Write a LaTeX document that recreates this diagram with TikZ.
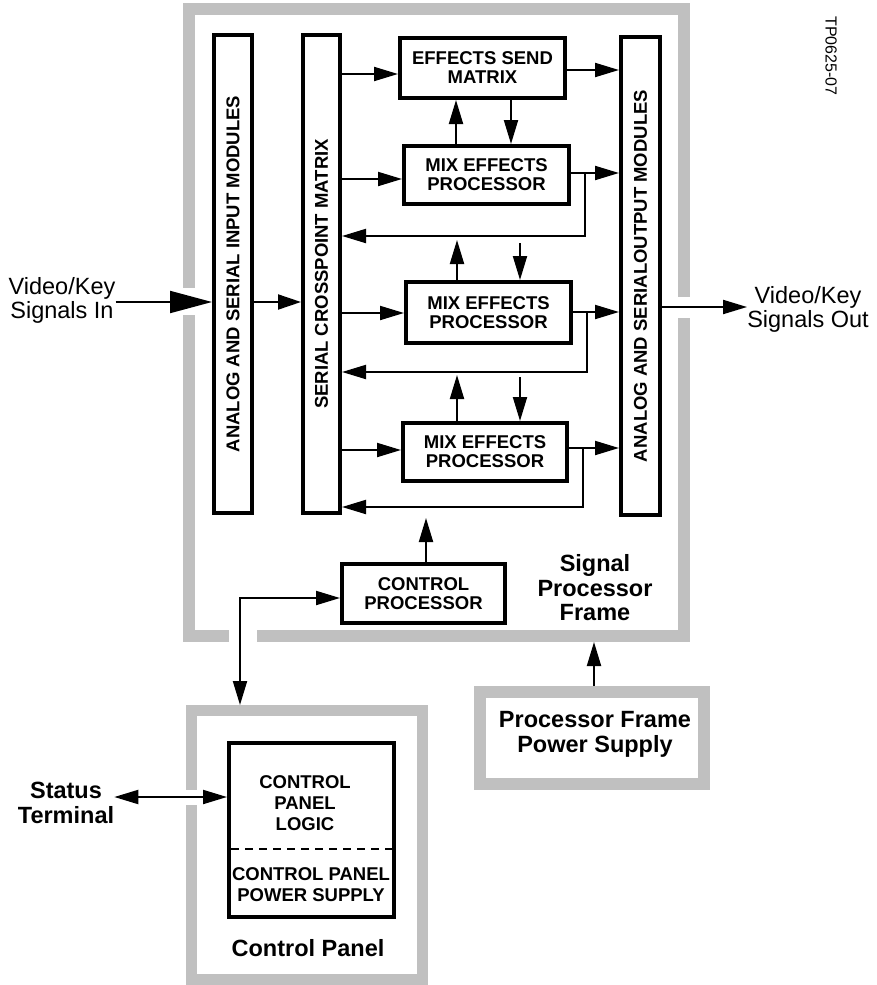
\documentclass[tikz,border=0pt]{standalone}
\usepackage{fontspec}
\setmainfont{Liberation Sans}
\usetikzlibrary{arrows.meta}
\definecolor{framegrey}{RGB}{192,192,192}
\begin{document}
\begin{tikzpicture}[x=1pt,y=-1pt,
  box/.style={draw, line width=4pt, inner sep=0pt, align=center,
    font=\fontsize{18.5}{19}\selectfont\bfseries},
  boxtext/.style={inner sep=0pt, align=center, font=\fontsize{18.5}{21}\selectfont\bfseries},
  frame/.style={draw=framegrey, line width=12pt, inner sep=0pt},
  arr/.style={line width=2pt, -{Triangle[length=24pt,width=14pt]}},
  darr/.style={line width=2pt, {Triangle[length=24pt,width=14pt]}-{Triangle[length=24pt,width=14pt]}},
  lbl/.style={align=center, inner sep=0pt, font=\fontsize{23.5}{24}\selectfont},
  blbl/.style={align=center, inner sep=0pt, font=\fontsize{23.5}{24.5}\selectfont\bfseries},
]
\useasboundingbox (0,0) rectangle (876,985);

% grey frames
\node[frame, minimum width=495pt, minimum height=627pt] (spf) at (436.5,322.5) {};
\node[frame, minimum width=224pt, minimum height=92pt] (psf) at (592,738) {};
\node[frame, line width=11pt, minimum width=231pt, minimum height=269pt] (cpf) at (307,845) {};

% openings in the frames where signals pass through
\fill[white] (180,288) rectangle (198,315);
\fill[white] (675,297) rectangle (693,318);
\fill[white] (229,627) rectangle (257,646);
\fill[white] (183,790) rectangle (200,805);

% signal processor blocks
\node[box, minimum width=38pt, minimum height=478pt] (inmod) at (233,274)
  {\rotatebox{90}{ANALOG AND SERIAL INPUT MODULES}};
\node[box, minimum width=37pt, minimum height=478pt] (xpt) at (321.5,274)
  {\rotatebox{90}{SERIAL CROSSPOINT MATRIX}};
\node[box, minimum width=39pt, minimum height=478pt] (outmod) at (640.5,276)
  {\rotatebox{90}{ANALOG AND SERIALOUTPUT MODULES}};
\node[box, minimum width=165pt, minimum height=60pt] (es) at (482.5,68)
  {EFFECTS SEND\\MATRIX};
\node[box, minimum width=165pt, minimum height=58pt] (mix1) at (486.5,175)
  {MIX EFFECTS\\PROCESSOR};
\node[box, minimum width=165pt, minimum height=61pt] (mix2) at (488.5,312.5)
  {MIX EFFECTS\\PROCESSOR};
\node[box, minimum width=164pt, minimum height=58pt] (mix3) at (485,452)
  {MIX EFFECTS\\PROCESSOR};
\node[box, minimum width=163pt, minimum height=59pt] (cp) at (423.5,593.5)
  {CONTROL\\PROCESSOR};

% control panel block
\node[box, minimum width=165pt, minimum height=174pt] (cpl) at (311.5,830) {};
\node[boxtext] (cpltxt) at (305,803) {CONTROL\\PANEL\\LOGIC};
\node[boxtext] (cpstxt) at (311,884.5) {CONTROL PANEL\\POWER SUPPLY};
\draw[line width=2.5pt, dash pattern=on 8pt off 6pt]
  ([xshift=4pt]cpl.west |- 0,849) -- ([xshift=-4pt]cpl.east |- 0,849);

% labels
\node[blbl] (spflbl) at (595,588) {Signal\\Processor\\Frame};
\node[blbl] (psflbl) at (595,734.5) {Processor Frame\\Power Supply};
\node[blbl] (cpflbl) at (308,948) {Control Panel};
\node[blbl] (status) at (66,803) {Status\\Terminal};
\node[lbl] (vkin) at (62,300) {Video/Key\\Signals In};
\node[lbl] (vkout) at (808,309) {Video/Key\\Signals Out};
\node[rotate=-90, inner sep=0pt, font=\fontsize{16}{16}\selectfont] (tp) at (831,56) {TP0625-07};

% input side
\draw[line width=2pt, -{Triangle[length=42pt,width=22pt]}]
  (vkin.east |- 0,302) -- (inmod.west |- 0,302);
\draw[line width=2pt, -{Triangle[length=23pt,width=15pt]}]
  (inmod.east |- 0,302) -- (xpt.west |- 0,302);

% effects send matrix
\draw[arr] (xpt.east |- 0,74) -- (es.west |- 0,74);
\draw[arr] (es.east |- 0,70) -- (outmod.west |- 0,70);
\draw[arr] (mix1.north -| 456,0) -- (es.south -| 456,0);
\draw[arr] (es.south -| 511,0) -- (mix1.north -| 511,0);

% first mix effects processor
\draw[arr] (xpt.east |- 0,179) -- (mix1.west |- 0,179);
\draw[arr] (mix1.east |- 0,173) -- (outmod.west |- 0,173);
\coordinate (fb1) at (585,173);
\draw[arr] (fb1) |- (xpt.east |- 0,236);

% second mix effects processor
\coordinate (up2) at (457,240);
\coordinate (dn2) at (520,243);
\draw[arr] (mix2.north -| up2) -- (up2);
\draw[arr] (dn2) -- (mix2.north -| dn2);
\draw[arr] (xpt.east |- 0,313) -- (mix2.west |- 0,313);
\draw[arr] (mix2.east |- 0,312) -- (outmod.west |- 0,312);
\coordinate (fb2) at (587,312);
\draw[arr] (fb2) |- (xpt.east |- 0,372);

% third mix effects processor
\coordinate (up3) at (457,375);
\coordinate (dn3) at (520,377);
\draw[arr] (mix3.north -| up3) -- (up3);
\draw[arr] (dn3) -- (mix3.north -| dn3);
\draw[arr] (xpt.east |- 0,450) -- (mix3.west |- 0,450);
\draw[arr] (mix3.east |- 0,448) -- (outmod.west |- 0,448);
\coordinate (fb3) at (583,448);
\draw[arr] (fb3) |- (xpt.east |- 0,507);

% control processor
\coordinate (cpup) at (426,518);
\draw[arr] (cp.north -| cpup) -- (cpup);
\draw[darr] (cpf.north -| 240,0) |- (cp.west |- 0,598);

% output side
\draw[arr] (outmod.east |- 0,307) -- (vkout.west |- 0,307);

% status terminal and power supply
\draw[darr] (status.east |- 0,797) -- (cpl.west |- 0,797);
\draw[arr] (psf.north -| 594,0) -- (spf.south -| 594,0);
\end{tikzpicture}
\end{document}
